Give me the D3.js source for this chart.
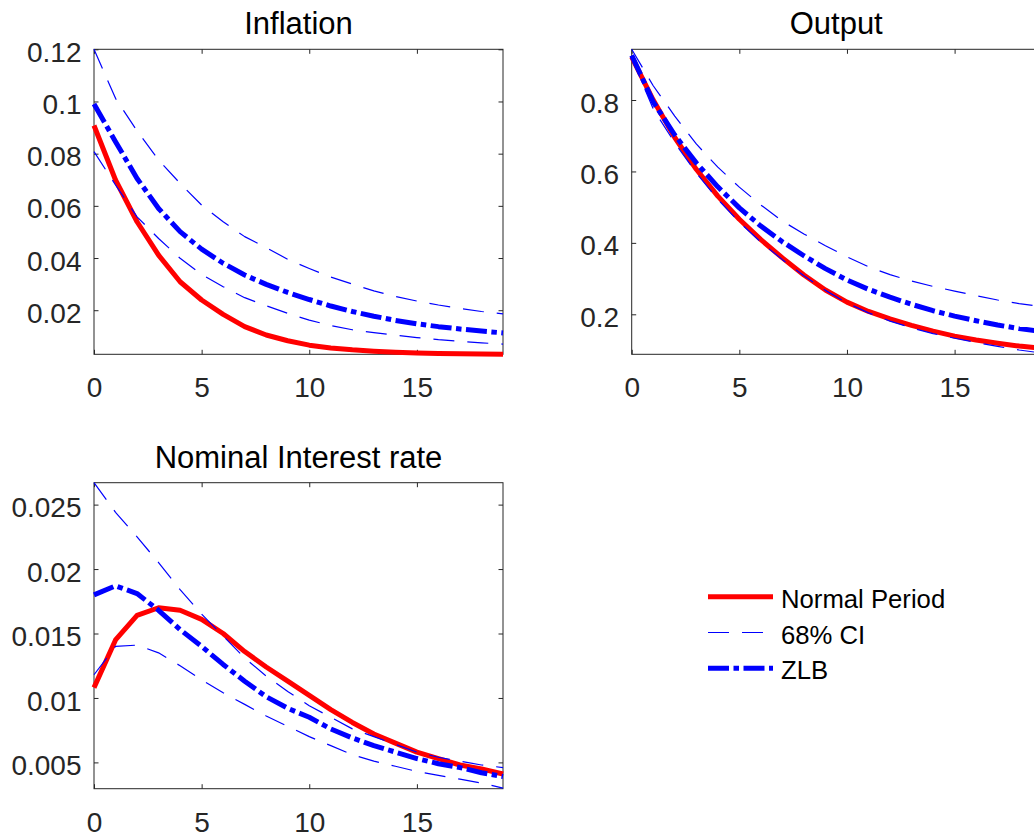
<!DOCTYPE html>
<html lang="en">
<head>
<meta charset="UTF-8">
<title>Impulse responses</title>
<script src="https://cdn.jsdelivr.net/npm/d3@7"></script>
<style>
  body { margin: 0; background: #fff; }
  svg text { font-family: "Liberation Sans", Arial, Helvetica, sans-serif; }
</style>
</head>
<body>
<svg id="irf" width="1034" height="837"></svg>
<script>
// horizon (quarters after the shock)
const periods = [0, 1, 2, 3, 4, 5, 6, 7, 8, 9, 10, 11, 12, 13, 14, 15, 16, 17, 18, 19];
const xTicks = [0, 5, 10, 15];

// Inflation
const inflNormal = [0.0908, 0.0699, 0.0539, 0.0411, 0.0309, 0.0239, 0.0184, 0.0137, 0.0105, 0.0083,
                    0.0066, 0.0055, 0.0048, 0.0043, 0.0039, 0.0036, 0.0034, 0.0033, 0.0032, 0.0031];
const inflZLB    = [0.0990, 0.0846, 0.0705, 0.0590, 0.0501, 0.0434, 0.0380, 0.0335, 0.0299, 0.0268,
                    0.0241, 0.0216, 0.0195, 0.0177, 0.0161, 0.0148, 0.0137, 0.0128, 0.0120, 0.0113];
const inflUpper  = [0.1200, 0.1012, 0.0887, 0.0776, 0.0686, 0.0603, 0.0539, 0.0482, 0.0440, 0.0395,
                    0.0360, 0.0327, 0.0300, 0.0274, 0.0253, 0.0235, 0.0220, 0.0207, 0.0195, 0.0186];
const inflLower  = [0.0808, 0.0680, 0.0558, 0.0475, 0.0399, 0.0337, 0.0290, 0.0248, 0.0217, 0.0188,
                    0.0162, 0.0141, 0.0125, 0.0114, 0.0104, 0.0095, 0.0087, 0.0081, 0.0075, 0.0070];
const inflTicks  = [0.02, 0.04, 0.06, 0.08, 0.1, 0.12];
const inflLabels = ["0.02", "0.04", "0.06", "0.08", "0.1", "0.12"];

// Output
const outNormal = [0.921, 0.800, 0.695, 0.606, 0.531, 0.466, 0.409, 0.358, 0.310, 0.268,
                   0.234, 0.208, 0.187, 0.169, 0.153, 0.139, 0.128, 0.119, 0.111, 0.105];
const outZLB    = [0.925, 0.795, 0.702, 0.624, 0.557, 0.498, 0.447, 0.403, 0.364, 0.328,
                   0.296, 0.270, 0.248, 0.228, 0.210, 0.195, 0.182, 0.170, 0.160, 0.152];
const outUpper  = [0.942, 0.840, 0.755, 0.677, 0.612, 0.556, 0.506, 0.461, 0.425, 0.392,
                   0.361, 0.333, 0.311, 0.293, 0.278, 0.265, 0.252, 0.240, 0.230, 0.222];
const outLower  = [0.918, 0.775, 0.680, 0.596, 0.522, 0.458, 0.402, 0.353, 0.308, 0.267,
                   0.232, 0.204, 0.181, 0.162, 0.146, 0.133, 0.121, 0.110, 0.100, 0.092];
const outTicks  = [0.2, 0.4, 0.6, 0.8];
const outLabels = ["0.2", "0.4", "0.6", "0.8"];

// Nominal interest rate
const rateNormal = [0.0108, 0.0145, 0.0164, 0.0170, 0.0168, 0.0161, 0.0150, 0.0136, 0.0124, 0.0113,
                    0.0102, 0.0091, 0.0081, 0.0072, 0.0065, 0.0058, 0.0053, 0.0048, 0.0045, 0.0041];
const rateZLB    = [0.0180, 0.0187, 0.0181, 0.0168, 0.0153, 0.0140, 0.0126, 0.0113, 0.0101, 0.0092,
                    0.0085, 0.0076, 0.0069, 0.0063, 0.0058, 0.0053, 0.0049, 0.0046, 0.0042, 0.0039];
const rateUpper  = [0.0267, 0.0244, 0.0225, 0.0205, 0.0184, 0.0165, 0.0148, 0.0131, 0.0117, 0.0105,
                    0.0094, 0.0085, 0.0076, 0.0070, 0.0064, 0.0058, 0.0054, 0.0051, 0.0048, 0.0046];
const rateLower  = [0.0118, 0.0140, 0.0141, 0.0135, 0.0125, 0.0114, 0.0104, 0.0095, 0.0086, 0.0078,
                    0.0070, 0.0063, 0.0056, 0.0051, 0.0047, 0.0043, 0.0040, 0.0037, 0.0034, 0.0030];
const rateTicks  = [0.005, 0.01, 0.015, 0.02, 0.025];
const rateLabels = ["0.005", "0.01", "0.015", "0.02", "0.025"];

const legendLabels = ["Normal Period", "68% CI", "ZLB"];

const axisColor = "#262626";
const styles = {
  normal: { stroke: "#ff0000", width: 5, dash: null },
  ci:     { stroke: "#0000ff", width: 1.2, dash: "21,13" },
  zlb:    { stroke: "#0000ff", width: 5, dash: "21,4.5,5.5,4.5" }
};

const svg = d3.select("svg#irf");

const panels = [
  { title: "Inflation", normal: inflNormal, zlb: inflZLB, upper: inflUpper, lower: inflLower,
    ticks: inflTicks, labels: inflLabels, yDomain: [0.0031, 0.12],
    left: 94, top: 49.3, width: 409, height: 305 },
  { title: "Output", normal: outNormal, zlb: outZLB, upper: outUpper, lower: outLower,
    ticks: outTicks, labels: outLabels, yDomain: [0.088, 0.942],
    left: 631.7, top: 49.3, width: 409, height: 305 },
  { title: "Nominal Interest rate", normal: rateNormal, zlb: rateZLB, upper: rateUpper, lower: rateLower,
    ticks: rateTicks, labels: rateLabels, yDomain: [0.00296, 0.0267],
    left: 94, top: 482.7, width: 409, height: 306 }
];

function drawSeries(g, values, line, st) {
  const path = g.append("path")
    .datum(values)
    .attr("fill", "none")
    .attr("stroke", st.stroke)
    .attr("stroke-width", st.width)
    .attr("stroke-linejoin", "round")
    .attr("d", line);
  if (st.dash) path.attr("stroke-dasharray", st.dash);
}

panels.forEach(p => {
  const x = d3.scaleLinear().domain([0, 19]).range([0, p.width]);
  const y = d3.scaleLinear().domain(p.yDomain).range([p.height, 0]);
  const g = svg.append("g").attr("transform", `translate(${p.left},${p.top})`);

  // box
  g.append("rect")
    .attr("width", p.width)
    .attr("height", p.height)
    .attr("fill", "none")
    .attr("stroke", axisColor)
    .attr("stroke-width", 1);

  // axes, ticks pointing inward
  const bottom = g.append("g")
    .attr("transform", `translate(0,${p.height})`)
    .call(d3.axisBottom(x).tickValues(xTicks).tickSize(-4.5).tickSizeOuter(0).tickPadding(23));
  const top = g.append("g")
    .call(d3.axisTop(x).tickValues(xTicks).tickSize(-4.5).tickSizeOuter(0).tickFormat(""));
  const left = g.append("g")
    .call(d3.axisLeft(y).tickValues(p.ticks).tickSize(-4.5).tickSizeOuter(0).tickPadding(12.5)
      .tickFormat((d, i) => p.labels[i]));
  const right = g.append("g")
    .attr("transform", `translate(${p.width},0)`)
    .call(d3.axisRight(y).tickValues(p.ticks).tickSize(-4.5).tickSizeOuter(0).tickFormat(""));

  [bottom, top, left, right].forEach(a => {
    a.select(".domain").remove();
    a.selectAll(".tick line").attr("stroke", axisColor);
    a.selectAll("text").attr("fill", axisColor).style("font-size", "28px");
  });
  left.selectAll("text").attr("dy", "0.43em");
  bottom.selectAll("text").attr("dy", "0.71em");

  // title
  g.append("text")
    .attr("x", p.width / 2)
    .attr("y", -15)
    .attr("text-anchor", "middle")
    .style("font-size", "31px")
    .attr("fill", "#000")
    .text(p.title);

  const line = d3.line()
    .x((d, i) => x(periods[i]))
    .y(d => y(d));

  drawSeries(g, p.normal, line, styles.normal);
  drawSeries(g, p.upper, line, styles.ci);
  drawSeries(g, p.lower, line, styles.ci);
  drawSeries(g, p.zlb, line, styles.zlb);
});

// legend, no box
const legend = svg.append("g").attr("transform", "translate(708,607.7)");
[styles.normal, styles.ci, styles.zlb].forEach((st, i) => {
  const row = legend.append("g").attr("transform", `translate(0,${i * 35.8})`);
  const l = row.append("line")
    .attr("x1", 0).attr("x2", 65)
    .attr("y1", -11).attr("y2", -11)
    .attr("stroke", st.stroke)
    .attr("stroke-width", st.width);
  if (st.dash) l.attr("stroke-dasharray", st.dash);
  row.append("text")
    .attr("x", 73)
    .attr("y", 0)
    .style("font-size", "25.7px")
    .attr("fill", "#000")
    .text(legendLabels[i]);
});
</script>
</body>
</html>
